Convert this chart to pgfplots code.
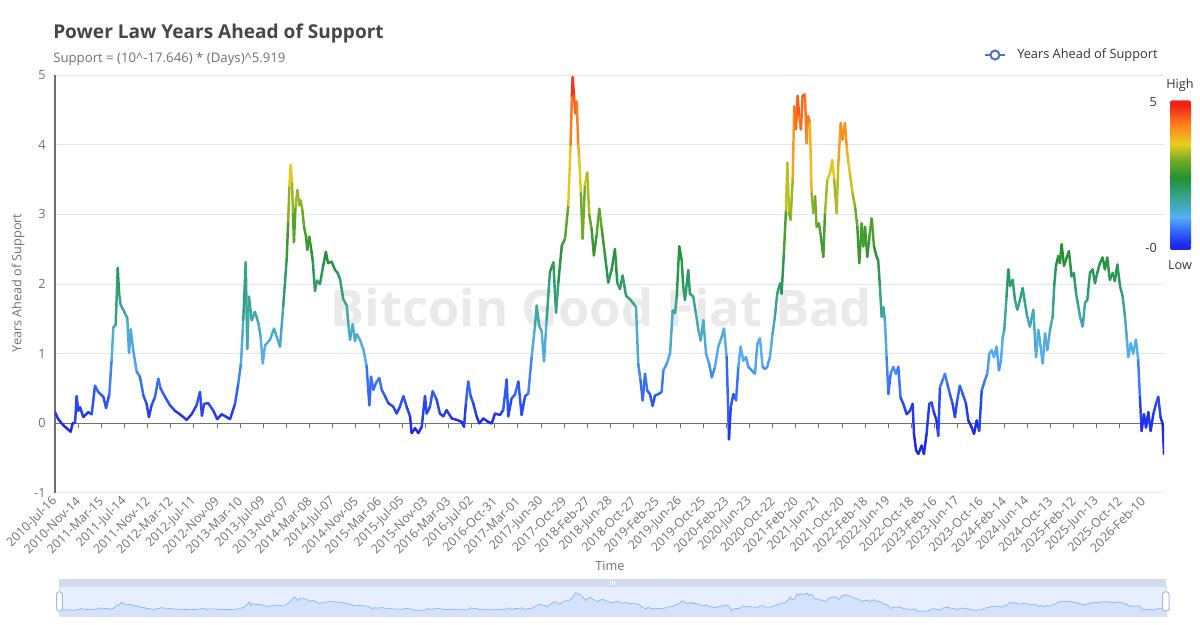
\documentclass[border=0pt]{standalone}
\usepackage{fontspec}
\setmainfont{Open Sans}
\usepackage{pgfplots}
\pgfplotsset{compat=1.18}
\usepackage{pgfplotstable}
\definecolor{ctitle}{HTML}{464646}
\definecolor{csub}{HTML}{6E7079}
\definecolor{cgrid}{HTML}{E0E6F1}
\definecolor{caxis}{HTML}{6E7079}
\definecolor{clegend}{HTML}{333333}
\definecolor{cseries}{HTML}{5470C6}
\definecolor{cwater}{HTML}{EAEAEA}
\definecolor{dzborder}{HTML}{D2DBEE}
\definecolor{dzfill}{RGB}{231,239,255}
\definecolor{dzarea}{RGB}{213,226,253}
\definecolor{dzline}{HTML}{8FB0F7}
\definecolor{dzhandle}{HTML}{ACB8D1}
\definecolor{vmA}{RGB}{30,40,235}
\definecolor{vmB}{RGB}{50,105,248}
\definecolor{vmC}{RGB}{85,175,245}
\definecolor{vmD}{RGB}{55,165,145}
\definecolor{vmE}{RGB}{35,145,50}
\definecolor{vmF}{RGB}{110,170,40}
\definecolor{vmG}{RGB}{230,205,30}
\definecolor{vmH}{RGB}{255,140,30}
\definecolor{vmI}{RGB}{240,35,25}
\pgfplotsset{colormap={vm}{rgb255(0pt)=(30,40,235) rgb255(10pt)=(50,105,248) rgb255(20pt)=(85,175,245) rgb255(34pt)=(55,165,145) rgb255(48pt)=(35,145,50) rgb255(60pt)=(110,170,40) rgb255(72pt)=(230,205,30) rgb255(84pt)=(255,140,30) rgb255(100pt)=(240,35,25)}}
\pgfdeclareverticalshading{vmshade}{100bp}{color(0bp)=(vmA); color(25bp)=(vmA); color(30bp)=(vmB); color(35bp)=(vmC); color(42bp)=(vmD); color(49bp)=(vmE); color(55bp)=(vmF); color(61bp)=(vmG); color(67bp)=(vmH); color(75bp)=(vmI); color(100bp)=(vmI)}
\pgfplotstableread{
d v
0 0.16
17 0.06
44 -0.03
82 -0.12
92 0.00
105 0.01
113 0.39
122 0.18
131 0.23
148 0.09
174 0.16
192 0.13
209 0.54
226 0.45
253 0.38
267 0.22
284 0.42
296 0.91
305 1.38
317 1.41
328 2.23
335 1.87
343 1.70
357 1.63
378 1.51
387 1.01
396 1.35
409 1.05
427 0.74
444 0.67
462 0.40
479 0.28
491 0.09
505 0.26
523 0.38
540 0.64
552 0.50
575 0.38
601 0.26
627 0.18
653 0.13
688 0.05
714 0.13
740 0.26
758 0.45
768 0.11
779 0.28
801 0.29
828 0.18
848 0.06
871 0.13
897 0.09
915 0.06
941 0.28
958 0.57
972 0.86
984 1.48
997 2.31
1005 1.07
1014 1.82
1028 1.48
1045 1.60
1063 1.44
1075 1.24
1086 0.86
1098 1.12
1124 1.20
1145 1.36
1159 1.24
1176 1.10
1193 1.68
1211 2.35
1219 2.90
1225 3.40
1232 3.71
1239 3.45
1244 3.00
1249 2.60
1257 3.10
1267 3.35
1277 3.13
1284 3.20
1293 3.06
1302 2.82
1312 2.68
1319 2.49
1329 2.68
1337 2.54
1347 2.34
1359 1.90
1369 2.05
1385 2.00
1401 2.25
1416 2.46
1427 2.30
1446 2.32
1464 2.20
1477 2.16
1490 2.07
1507 1.78
1525 1.69
1533 1.44
1542 1.20
1556 1.42
1568 1.18
1577 1.28
1594 1.20
1612 1.06
1629 0.82
1643 0.26
1652 0.67
1664 0.48
1678 0.58
1695 0.65
1708 0.48
1725 0.39
1742 0.29
1768 0.24
1786 0.14
1803 0.24
1821 0.39
1838 0.24
1856 0.10
1864 -0.14
1882 -0.07
1899 -0.14
1917 -0.05
1934 0.39
1943 0.14
1960 0.24
1974 0.46
1995 0.34
2012 0.14
2030 0.10
2047 0.19
2074 0.07
2100 0.05
2126 0.02
2138 -0.05
2148 0.29
2160 0.60
2173 0.39
2186 0.29
2204 0.10
2218 0.00
2239 0.07
2265 0.02
2283 0.00
2300 0.14
2326 0.12
2343 0.19
2361 0.63
2369 0.10
2387 0.36
2404 0.41
2422 0.60
2439 0.12
2457 0.39
2474 0.43
2492 0.96
2509 1.40
2518 1.69
2531 1.40
2544 1.32
2556 0.89
2570 1.49
2587 2.17
2605 2.31
2619 1.59
2631 2.02
2649 2.55
2666 2.65
2683 3.13
2695 4.00
2702 4.70
2706 4.97
2713 4.70
2720 4.45
2727 4.62
2735 4.00
2740 3.83
2749 3.30
2758 2.65
2770 3.42
2782 3.60
2793 2.99
2805 2.79
2817 2.41
2831 2.70
2845 3.08
2858 2.79
2875 2.41
2892 2.02
2910 2.21
2927 2.50
2939 2.02
2953 1.93
2967 2.12
2985 1.83
3006 1.78
3023 1.72
3037 1.67
3049 0.85
3061 0.61
3072 0.33
3084 0.71
3096 0.47
3110 0.42
3124 0.25
3136 0.40
3154 0.42
3171 0.45
3180 0.76
3197 0.85
3215 1.00
3229 1.62
3241 1.58
3250 1.82
3263 2.54
3276 2.34
3284 1.96
3293 1.77
3310 2.20
3319 1.86
3336 1.82
3350 1.58
3363 1.34
3375 1.19
3389 1.48
3403 1.00
3420 0.85
3433 0.66
3450 0.81
3467 1.10
3485 1.24
3497 1.36
3511 0.95
3523 -0.23
3532 0.23
3546 0.42
3560 0.33
3572 0.81
3584 1.10
3598 0.90
3612 0.95
3624 0.81
3642 0.76
3659 0.71
3671 1.14
3685 1.22
3699 0.81
3711 0.78
3723 0.81
3737 0.95
3751 1.29
3763 1.53
3775 1.86
3790 2.01
3798 1.86
3810 2.44
3821 3.06
3828 3.74
3837 3.02
3845 2.92
3856 3.50
3864 4.55
3873 4.22
3882 4.70
3890 4.41
3899 4.22
3908 4.70
3920 4.72
3929 4.02
3937 4.41
3946 4.31
3955 3.30
3964 3.02
3973 3.26
3981 2.82
3993 2.87
4004 2.68
4016 2.39
4025 3.02
4037 3.50
4051 3.59
4063 3.78
4073 3.50
4086 3.02
4094 3.69
4107 4.31
4117 4.07
4129 4.31
4138 3.98
4147 3.74
4155 3.59
4169 3.30
4182 3.11
4194 2.82
4204 2.30
4217 2.87
4225 2.54
4234 2.82
4246 2.39
4257 2.68
4269 2.94
4281 2.54
4295 2.39
4303 2.34
4312 1.96
4321 1.53
4330 1.67
4338 1.48
4347 0.95
4356 0.42
4368 0.71
4382 0.81
4396 0.71
4408 0.81
4420 0.37
4434 0.28
4452 0.13
4469 0.18
4483 0.28
4490 -0.15
4501 -0.39
4513 -0.44
4530 -0.32
4542 -0.44
4556 -0.15
4570 0.28
4582 0.30
4594 0.16
4608 0.04
4617 -0.18
4626 0.52
4640 0.62
4652 0.71
4664 0.57
4678 0.42
4692 0.28
4704 0.09
4716 0.33
4730 0.54
4745 0.42
4762 0.28
4774 0.04
4792 -0.06
4804 -0.15
4818 0.04
4831 -0.11
4844 0.47
4861 0.62
4873 0.71
4884 1.00
4896 1.05
4908 0.95
4922 1.10
4934 0.76
4945 0.91
4954 1.24
4962 1.34
4974 1.82
4983 2.21
4992 1.97
5006 2.06
5018 1.77
5030 1.63
5044 1.77
5058 1.94
5070 1.73
5082 1.53
5096 1.39
5114 1.63
5128 0.95
5140 1.34
5152 1.10
5163 0.86
5175 1.29
5187 1.05
5201 1.34
5215 1.53
5223 1.97
5232 2.26
5244 2.40
5253 2.30
5262 2.57
5274 2.26
5288 2.38
5300 2.47
5314 2.11
5326 2.16
5337 1.87
5349 1.68
5358 1.53
5372 1.39
5384 1.73
5396 1.77
5410 2.16
5424 2.21
5436 2.01
5448 2.16
5462 2.30
5476 2.38
5488 2.21
5500 2.38
5514 2.06
5529 2.16
5540 2.04
5553 2.28
5567 1.97
5581 1.82
5593 1.53
5602 1.24
5610 0.95
5623 1.15
5636 1.00
5650 1.20
5662 0.91
5671 0.38
5680 -0.11
5692 0.13
5703 -0.06
5715 0.16
5727 -0.11
5741 0.13
5755 0.28
5767 0.38
5779 0.09
5790 -0.01
5797 -0.44
}\data
\begin{document}
\begin{tikzpicture}[x=0.75pt,y=0.75pt]
\path[use as bounding box] (0,0) rectangle (1200,625);
% watermark
\node[anchor=base, text=cwater, font=\fontsize{38}{44}\selectfont\bfseries, inner sep=0pt] at (601.5,298) {Bitcoin Good Fiat Bad};
% titles
\node[anchor=base west, inner sep=0pt, text=ctitle, font=\fontsize{14.3}{17}\selectfont\bfseries] at (53,586.7) {Power Law Years Ahead of Support};
\node[anchor=base west, inner sep=0pt, text=csub, font=\fontsize{9.9}{12}\selectfont] at (53,562.7) {Support = (10\^{}-17.646) * (Days)\^{}5.919};
% legend
\draw[cseries, line width=1.5pt] (985,570) -- (1005,570);
\draw[cseries, line width=1.5pt, fill=white] (995,570) circle (4.5);
\node[anchor=west, inner sep=0pt, text=clegend, font=\fontsize{9.6}{12}\selectfont] at (1017,570) {Years Ahead of Support};
% axis titles
\node[rotate=90, text=csub, font=\fontsize{9.5}{12}\selectfont] at (18,342) {Years Ahead of Support};
\node[text=csub, font=\fontsize{9.5}{12}\selectfont] at (610,59) {Time};
% main chart
\begin{axis}[
  at={(41.25pt,99pt)}, anchor=south west,
  width=831.75pt, height=313.5pt, scale only axis,
  xmin=0, xmax=5797, ymin=-1, ymax=5,
  axis x line*=bottom, axis y line*=left,
  x axis line style={draw=none},
  y axis line style={draw=caxis, line width=0.75pt},
  ytick={-1,1,2,3,4,5},
  extra y ticks={0},
  extra y tick style={grid=major, major grid style={draw=caxis, line width=0.75pt}},
  ymajorgrids, major grid style={draw=cgrid, line width=0.75pt},
  major tick length=0pt, tick style={draw=none},
  xtick={0,121,...,5687},
  xticklabels={2010-Jul-16,2010-Nov-14,2011-Mar-15,2011-Jul-14,2011-Nov-12,2012-Mar-12,2012-Jul-11,2012-Nov-09,2013-Mar-10,2013-Jul-09,2013-Nov-07,2014-Mar-08,2014-Jul-07,2014-Nov-05,2015-Mar-06,2015-Jul-05,2015-Nov-03,2016-Mar-03,2016-Jul-02,2016-Oct-31,2017-Mar-01,2017-Jun-30,2017-Oct-29,2018-Feb-27,2018-Jun-28,2018-Oct-27,2019-Feb-25,2019-Jun-26,2019-Oct-25,2020-Feb-23,2020-Jun-23,2020-Oct-22,2021-Feb-20,2021-Jun-21,2021-Oct-20,2022-Feb-18,2022-Jun-19,2022-Oct-18,2023-Feb-16,2023-Jun-17,2023-Oct-16,2024-Feb-14,2024-Jun-14,2024-Oct-13,2025-Feb-12,2025-Jun-13,2025-Oct-12,2026-Feb-10},
  xticklabel style={yshift=-4.5pt, rotate=45, anchor=east, inner sep=0pt, text=csub, font=\fontsize{9.3}{11}\selectfont},
  yticklabel style={anchor=east, inner sep=0pt, xshift=-6.75pt, text=csub, font=\fontsize{9.5}{12}\selectfont},
  /pgf/number format/assume math mode=true,
  colormap name=vm, point meta min=0, point meta max=5,
]
\pgfplotsinvokeforeach{121,242,...,5687}{\draw[caxis, line width=0.75pt] (axis cs:#1,0) -- ([yshift=-3.75pt]axis cs:#1,0);}
\addplot[mesh, point meta=y, line width=1.85pt, line cap=round, line join=round] table[x=d, y=v] {\data};
\end{axis}
% data zoom slider
\fill[dzborder] (59,38) rectangle (1166,46);
\draw[dzborder, fill=dzfill, line width=0.75pt] (59,8) rectangle (1166,38);
\begin{axis}[
  at={(44.25pt,6pt)}, anchor=south west,
  width=830.25pt, height=22.5pt, scale only axis,
  xmin=0, xmax=5797, ymin=-2.06, ymax=6.58, hide axis, clip=true,
]
\addplot[draw=none, fill=dzarea] table[x=d, y=v] {\data} -- (axis cs:5797,-2.06) -- (axis cs:0,-2.06) -- cycle;
\addplot[dzline, line width=0.5pt] table[x=d, y=v] {\data};
\end{axis}
\foreach \dx in {-2,0,2} \draw[white, line width=0.5pt] (612+\dx,40) -- (612+\dx,44);
\draw[dzhandle, fill=white, line width=0.75pt, rounded corners=1.5pt] (56.7,14) rectangle (62.3,33);
\draw[dzhandle, fill=white, line width=0.75pt, rounded corners=1.5pt] (1162.7,14) rectangle (1169,33);
% visual map bar
\shade[shading=vmshade] (1170,380) rectangle (1191,520);
\fill[vmI, rounded corners=1.5pt] (1170,519.5) rectangle (1191,524.5);
\fill[vmA, rounded corners=1.5pt] (1170,375) rectangle (1191,380.5);
\node[text=clegend, font=\fontsize{9.5}{12}\selectfont] at (1180,540) {High};
\node[text=clegend, font=\fontsize{9.5}{12}\selectfont] at (1180,360) {Low};
\node[anchor=east, inner sep=0pt, text=clegend, font=\fontsize{9.5}{12}\selectfont] at (1157,523) {5};
\node[anchor=east, inner sep=0pt, text=clegend, font=\fontsize{9.5}{12}\selectfont] at (1157,377) {-0};
\end{tikzpicture}
\end{document}
